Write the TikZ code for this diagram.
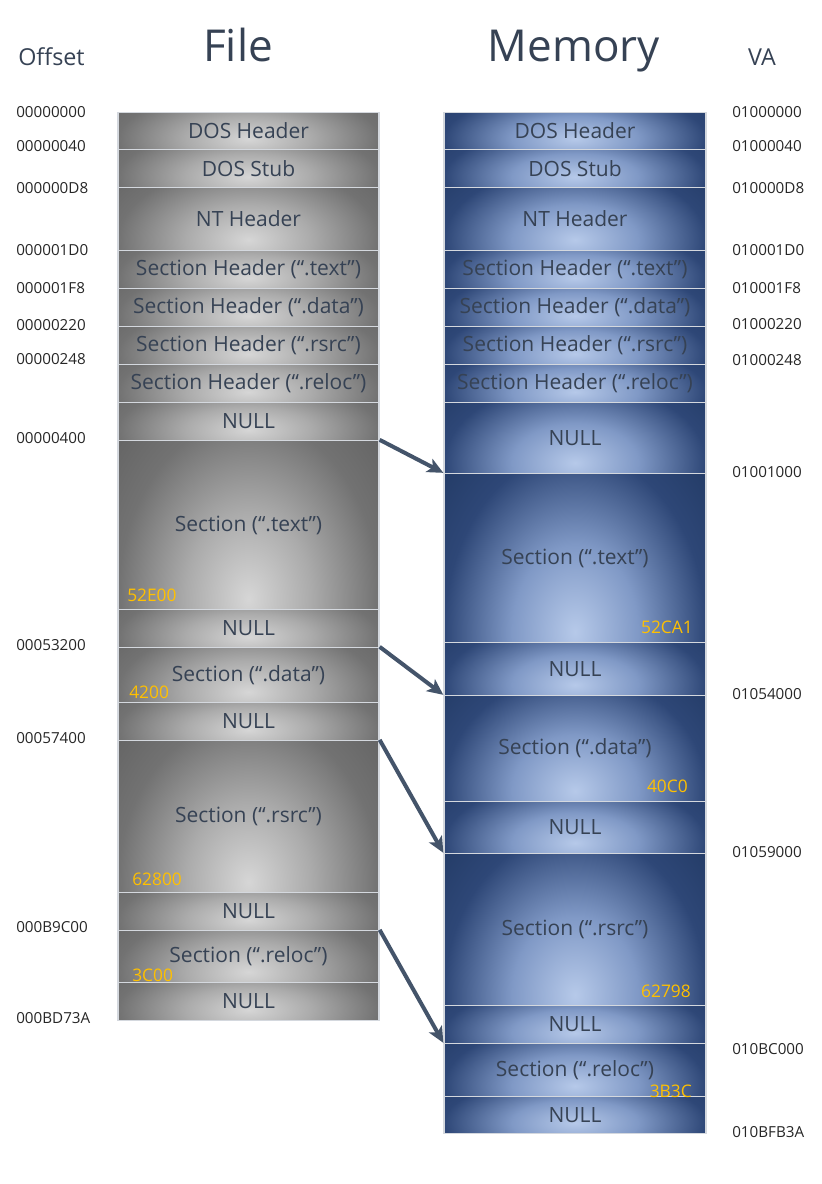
\documentclass[tikz,border=0pt]{standalone}
\usepackage{fontspec}
\setmainfont{Open Sans}
\usetikzlibrary{arrows.meta,calc}

\definecolor{slate}{HTML}{364254}
\definecolor{addrc}{HTML}{262626}
\definecolor{sizec}{HTML}{FFC000}
\definecolor{arrowc}{HTML}{44546A}
\definecolor{fileA}{HTML}{D6D6D6}
\definecolor{fileB}{HTML}{ABABAB}
\definecolor{fileC}{HTML}{727272}
\definecolor{fileD}{HTML}{616161}
\definecolor{memA}{HTML}{B6C9E9}
\definecolor{memB}{HTML}{8099C6}
\definecolor{memC}{HTML}{2E4777}
\definecolor{memD}{HTML}{213963}
\definecolor{cellline}{HTML}{D4D8DE}

\pgfdeclareradialshading{fileglow}{\pgfpoint{0bp}{0bp}}{color(0bp)=(fileA); color(12bp)=(fileB); color(25bp)=(fileC); color(36bp)=(fileD); color(50bp)=(fileD)}
\pgfdeclareradialshading{memglow}{\pgfpoint{0bp}{0bp}}{color(0bp)=(memA); color(12bp)=(memB); color(25bp)=(memC); color(36bp)=(memD); color(50bp)=(memD)}

\tikzset{
  glow/.style={path picture={\shade[shading=#1] ($(path picture bounding box.south west)!-1!(path picture bounding box.north west)$) rectangle ([yshift=16pt]path picture bounding box.north east);}},
  tall/.style={minimum height=#1*0.75pt},
  fcell/.style={draw=cellline, line width=1pt, inner sep=0pt, minimum width=195.75pt, glow=fileglow, text=slate, font=\fontsize{15.75}{18}\selectfont},
  mcell/.style={draw=cellline, line width=1pt, inner sep=0pt, minimum width=196.5pt, glow=memglow, text=slate, font=\fontsize{15.75}{18}\selectfont},
  addr/.style={inner sep=0pt, text=addrc, font=\fontsize{11.4}{13}\selectfont},
  sizelbl/.style={inner sep=0pt, text=sizec, font=\fontsize{13}{15}\selectfont},
  title/.style={inner sep=0pt, anchor=base, text=slate},
}

\begin{document}
\begin{tikzpicture}[x=0.75pt,y=-0.75pt]
	\useasboundingbox (0,0) rectangle (821,1184);

	% titles
	\node[title, font=\fontsize{33}{36}\selectfont] (tfile) at (238,62) {File};
	\node[title, font=\fontsize{33}{36}\selectfont] (tmem) at (574,62) {Memory};
	\node[title, font=\fontsize{17.5}{20}\selectfont] (toff) at (51.5,66) {Offset};
	\node[title, font=\fontsize{17.5}{20}\selectfont] (tva) at (762,66) {VA};

	% file
	\begin{scope}[every node/.style={fcell}]
		\node[tall=37] (fdos) at (248.5,131) {DOS Header};
		\node[tall=38] (fstub) at (248.5,168.5) {DOS Stub};
		\node[tall=63] (fnt) at (248.5,219) {NT Header};
		\node[tall=38] (fshtext) at (248.5,269.5) {Section Header (“.text”)};
		\node[tall=38] (fshdata) at (248.5,307.5) {Section Header (“.data”)};
		\node[tall=38] (fshrsrc) at (248.5,345.5) {Section Header (“.rsrc”)};
		\node[tall=38] (fshreloc) at (248.5,383.5) {Section Header (“.reloc”)};
		\node[tall=38] (fnull0) at (248.5,421.5) {NULL};
		\node[tall=169] (ftext) at (248.5,525) {Section (“.text”)};
		\node[tall=38] (fnull1) at (248.5,628.5) {NULL};
		\node[tall=55] (fdata) at (248.5,675) {Section (“.data”)};
		\node[tall=38] (fnull2) at (248.5,721.5) {NULL};
		\node[tall=152] (frsrc) at (248.5,816.5) {Section (“.rsrc”)};
		\node[tall=38] (fnull3) at (248.5,911.5) {NULL};
		\node[tall=52] (freloc) at (248.5,956.5) {Section (“.reloc”)};
		\node[tall=38] (fnull4) at (248.5,1001.5) {NULL};
	\end{scope}

	% memory
	\begin{scope}[every node/.style={mcell}]
		\node[tall=37] (mdos) at (575,131) {DOS Header};
		\node[tall=38] (mstub) at (575,168.5) {DOS Stub};
		\node[tall=63] (mnt) at (575,219) {NT Header};
		\node[tall=38] (mshtext) at (575,269.5) {Section Header (“.text”)};
		\node[tall=38] (mshdata) at (575,307.5) {Section Header (“.data”)};
		\node[tall=38] (mshrsrc) at (575,345.5) {Section Header (“.rsrc”)};
		\node[tall=38] (mshreloc) at (575,383.5) {Section Header (“.reloc”)};
		\node[tall=71] (mnull0) at (575,438) {NULL};
		\node[tall=169] (mtext) at (575,558) {Section (“.text”)};
		\node[tall=53] (mnull1) at (575,669) {NULL};
		\node[tall=106] (mdata) at (575,748.5) {Section (“.data”)};
		\node[tall=52] (mnull2) at (575,827.5) {NULL};
		\node[tall=152] (mrsrc) at (575,929.5) {Section (“.rsrc”)};
		\node[tall=38] (mnull3) at (575,1024.5) {NULL};
		\node[tall=53] (mreloc) at (575,1070) {Section (“.reloc”)};
		\node[tall=37] (mnull4) at (575,1115) {NULL};
	\end{scope}

	% sizes
	\begin{scope}[every node/.style={sizelbl}]
		\node[anchor=west] (fsztext) at (127,595) {52E00};
		\node[anchor=west] (fszdata) at (129,692) {4200};
		\node[anchor=west] (fszrsrc) at (132,879) {62800};
		\node[anchor=west] (fszreloc) at (132,975) {3C00};
		\node[anchor=east] (msztext) at (693,627) {52CA1};
		\node[anchor=east] (mszdata) at (688,786) {40C0};
		\node[anchor=east] (mszrsrc) at (691,991) {62798};
		\node[anchor=east] (mszreloc) at (692,1091) {3B3C};
	\end{scope}

	% offsets
	\begin{scope}[every node/.style={addr, anchor=west}]
		\node (ofs1) at (16,112) {00000000};
		\node (ofs2) at (16,146) {00000040};
		\node (ofs3) at (16,188) {000000D8};
		\node (ofs4) at (16,250) {000001D0};
		\node (ofs5) at (16,288) {000001F8};
		\node (ofs6) at (16,325) {00000220};
		\node (ofs7) at (16,359) {00000248};
		\node (ofs8) at (16,438) {00000400};
		\node (ofs9) at (16,645) {00053200};
		\node (ofs10) at (16,738) {00057400};
		\node (ofs11) at (16,927) {000B9C00};
		\node (ofs12) at (16,1018) {000BD73A};
	\end{scope}

	% virtual addresses
	\begin{scope}[every node/.style={addr, anchor=west}]
		\node (va1) at (732,112) {01000000};
		\node (va2) at (732,146) {01000040};
		\node (va3) at (732,188) {010000D8};
		\node (va4) at (732,250) {010001D0};
		\node (va5) at (732,288) {010001F8};
		\node (va6) at (732,324) {01000220};
		\node (va7) at (732,360) {01000248};
		\node (va8) at (732,472) {01001000};
		\node (va9) at (732,694) {01054000};
		\node (va10) at (732,852) {01059000};
		\node (va11) at (732,1049) {010BC000};
		\node (va12) at (732,1132) {010BFB3A};
	\end{scope}

	\begin{scope}[every edge/.style={draw=arrowc, line width=3pt}]
		\path [-{Stealth[length=12pt,width=11pt,inset=3pt]}] (ftext.north east) edge (mtext.north west);
		\path [-{Stealth[length=12pt,width=11pt,inset=3pt]}] (fdata.north east) edge (mdata.north west);
		\path [-{Stealth[length=12pt,width=11pt,inset=3pt]}] (frsrc.north east) edge (mrsrc.north west);
		\path [-{Stealth[length=12pt,width=11pt,inset=3pt]}] (freloc.north east) edge (mreloc.north west);
	\end{scope}
\end{tikzpicture}
\end{document}
